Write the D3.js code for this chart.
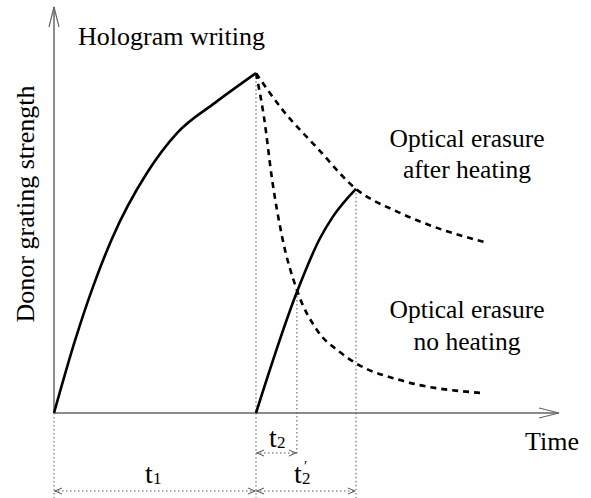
<!DOCTYPE html>
<html>
<head>
<meta charset="utf-8">
<script src="https://cdn.jsdelivr.net/npm/d3@7"></script>
</head>
<body style="margin:0">
<script>
// ---- data (time, grating strength), arbitrary units ----
const writing1 = [[0,0],[0.42,1.80],[0.77,3.10],[1.15,4.30],[1.84,5.91],[2.44,6.90],[3.2,7.65],[4.0,8.37]];
const writing2 = [[4.0,0],[4.81,2.98],[5.27,4.31],[5.52,4.83],[5.98,5.52]];
const erasureAfterHeating = [[4.0,8.37],[4.53,7.46],[5.21,6.53],[5.98,5.52],[6.85,4.93],[7.70,4.51],[8.59,4.19]];
const erasureNoHeating = [[4.0,8.37],[4.16,7.27],[4.32,5.74],[4.51,4.38],[4.81,3.03],[5.21,2.04],[5.66,1.50],[6.0,1.21],[6.85,0.81],[8.5,0.49]];
const times = { t0: 0, t1: 4.0, t2end: 4.81, t2pEnd: 5.98 };
const labels = {
  y: "Donor grating strength", x: "Time", writing: "Hologram writing",
  after: ["Optical erasure", "after heating"], noHeat: ["Optical erasure", "no heating"]
};

const W = 591, H = 498;
const svg = d3.select("body").append("svg").attr("width", W).attr("height", H);

const x = d3.scaleLinear().domain([0, 10]).range([54, 559]);
const y = d3.scaleLinear().domain([0, 10]).range([413, 7]);

const axisColor = "#666";
const dotColor = "#555";

function vDotted(t, y0px, y1px) {
  svg.append("line").attr("x1", x(t)).attr("x2", x(t)).attr("y1", y0px).attr("y2", y1px)
    .attr("stroke", dotColor).attr("stroke-width", 1).attr("stroke-dasharray", "1.5,2.5");
}
vDotted(times.t0, y(0), H);
vDotted(times.t1, y(8.37), H);
vDotted(times.t2end, y(2.98), 456);
vDotted(times.t2pEnd, y(5.52), H);

// axes
svg.append("line").attr("x1", x(0)).attr("x2", x(10)).attr("y1", y(0)).attr("y2", y(0))
  .attr("stroke", axisColor).attr("stroke-width", 1.5);
svg.append("line").attr("x1", x(0)).attr("x2", x(0)).attr("y1", y(0)).attr("y2", y(10))
  .attr("stroke", axisColor).attr("stroke-width", 1.5);
svg.append("path")
  .attr("d", `M${x(10)-20},${y(0)-5}L${x(10)},${y(0)}L${x(10)-20},${y(0)+5}`)
  .attr("fill", "none").attr("stroke", axisColor).attr("stroke-width", 1.2);
svg.append("path")
  .attr("d", `M${x(0)-5},${y(10)+20}L${x(0)},${y(10)}L${x(0)+5},${y(10)+20}`)
  .attr("fill", "none").attr("stroke", axisColor).attr("stroke-width", 1.2);

// curves
const line = d3.line().x(d => x(d[0])).y(d => y(d[1])).curve(d3.curveMonotoneX);
svg.append("path").attr("d", line(writing1)).attr("fill", "none").attr("stroke", "#000").attr("stroke-width", 2.6);
svg.append("path").attr("d", line(writing2)).attr("fill", "none").attr("stroke", "#000").attr("stroke-width", 2.6);
svg.append("path").attr("d", line(erasureAfterHeating)).attr("fill", "none").attr("stroke", "#000")
  .attr("stroke-width", 2.6).attr("stroke-dasharray", "6,5");
svg.append("path").attr("d", line(erasureNoHeating)).attr("fill", "none").attr("stroke", "#000")
  .attr("stroke-width", 2.6).attr("stroke-dasharray", "6,5");

// dimension arrows
function dim(a, b, ypx) {
  svg.append("line").attr("x1", x(a)).attr("x2", x(b)).attr("y1", ypx).attr("y2", ypx)
    .attr("stroke", dotColor).attr("stroke-width", 1).attr("stroke-dasharray", "1.5,2.5");
  const xa = x(a), xb = x(b);
  svg.append("path").attr("d", `M${xa+8},${ypx-3}L${xa+1},${ypx}L${xa+8},${ypx+3}`)
    .attr("fill", "none").attr("stroke", dotColor).attr("stroke-width", 1);
  svg.append("path").attr("d", `M${xb-8},${ypx-3}L${xb-1},${ypx}L${xb-8},${ypx+3}`)
    .attr("fill", "none").attr("stroke", dotColor).attr("stroke-width", 1);
}
dim(times.t0, times.t1, 491);
dim(times.t1, times.t2end, 453);
dim(times.t1, times.t2pEnd, 491);

// labels
const fontName = "Liberation Serif";
function txt(xp, yp, s, anchor, size) {
  return svg.append("text").attr("x", xp).attr("y", yp)
    .attr("font-size", size || 26).style("font-family", `"${fontName}"`)
    .attr("text-anchor", anchor || "start").text(s);
}
txt(78, 45, labels.writing);
txt(467, 147, labels.after[0], "middle", 25.5);
txt(467, 178, labels.after[1], "middle", 25.5);
txt(467, 318, labels.noHeat[0], "middle", 25.5);
txt(467, 350, labels.noHeat[1], "middle", 25.5);
txt(525, 450, labels.x);
txt(0, 0, labels.y, "middle").attr("transform", "translate(34,204) rotate(-90)");

// t labels: main letter plus subscript (and prime)
function tLabel(xpx, ypx, sub, prime) {
  svg.append("text").attr("x", xpx).attr("y", ypx).attr("font-size", 28)
    .style("font-family", `"${fontName}"`).text("t");
  svg.append("text").attr("x", xpx + 8).attr("y", ypx + 1).attr("font-size", 17)
    .style("font-family", `"${fontName}"`).text(sub);
  if (prime) {
    svg.append("text").attr("x", xpx + 10).attr("y", ypx - 12).attr("font-size", 15)
      .style("font-family", `"${fontName}"`).text("\u2032");
  }
}
tLabel(145, 483, "1", false);
tLabel(269, 447, "2", false);
tLabel(294, 483, "2", true);
</script>
</body>
</html>
